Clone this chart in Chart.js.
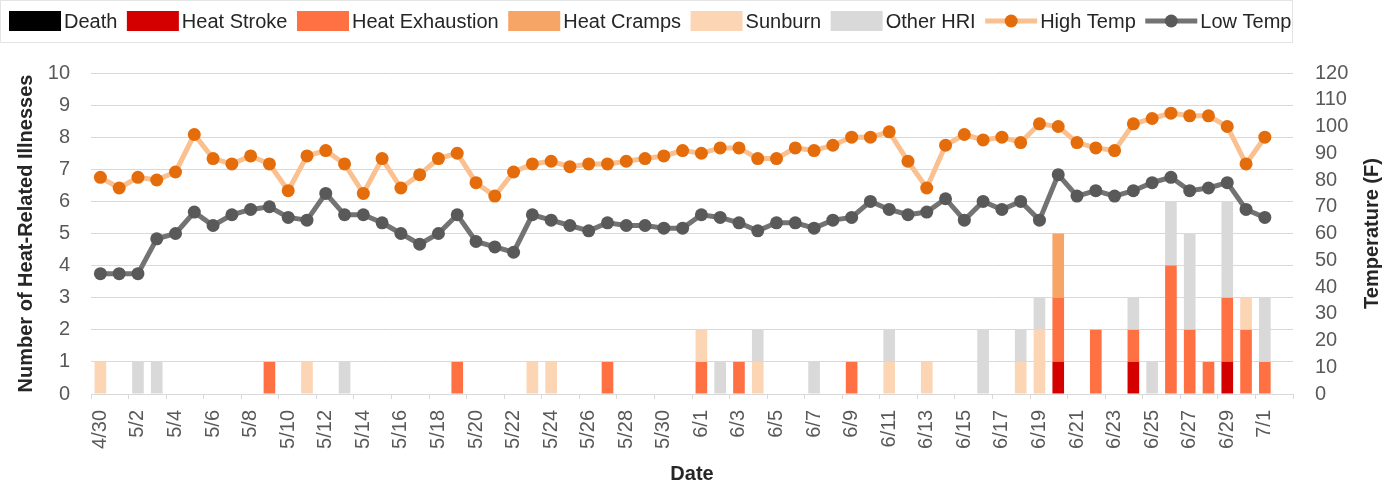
<!DOCTYPE html>
<html>
<head>
<meta charset="utf-8">
<title>Heat-Related Illnesses and Temperature</title>
<script src="https://cdn.jsdelivr.net/npm/chart.js@4.4.1/dist/chart.umd.min.js"></script>
<style>
  html, body { margin: 0; padding: 0; background: #ffffff; }
  #chart { display: block; }
</style>
</head>
<body>
<canvas id="chart" width="1395" height="487"></canvas>
<script>
// categories: one per day, 4/30 .. 7/2 (last day has no data)
const dates = [
  '4/30', '5/1', '5/2', '5/3', '5/4', '5/5', '5/6', '5/7',
  '5/8', '5/9', '5/10', '5/11', '5/12', '5/13', '5/14', '5/15',
  '5/16', '5/17', '5/18', '5/19', '5/20', '5/21', '5/22', '5/23',
  '5/24', '5/25', '5/26', '5/27', '5/28', '5/29', '5/30', '5/31',
  '6/1', '6/2', '6/3', '6/4', '6/5', '6/6', '6/7', '6/8',
  '6/9', '6/10', '6/11', '6/12', '6/13', '6/14', '6/15', '6/16',
  '6/17', '6/18', '6/19', '6/20', '6/21', '6/22', '6/23', '6/24',
  '6/25', '6/26', '6/27', '6/28', '6/29', '6/30', '7/1', '7/2'
];

// illness counts per day (stacked bars, left axis)
const deathCounts = [
  0, 0, 0, 0, 0, 0, 0, 0,
  0, 0, 0, 0, 0, 0, 0, 0,
  0, 0, 0, 0, 0, 0, 0, 0,
  0, 0, 0, 0, 0, 0, 0, 0,
  0, 0, 0, 0, 0, 0, 0, 0,
  0, 0, 0, 0, 0, 0, 0, 0,
  0, 0, 0, 0, 0, 0, 0, 0,
  0, 0, 0, 0, 0, 0, 0, 0
];
const heatStrokeCounts = [
  0, 0, 0, 0, 0, 0, 0, 0,
  0, 0, 0, 0, 0, 0, 0, 0,
  0, 0, 0, 0, 0, 0, 0, 0,
  0, 0, 0, 0, 0, 0, 0, 0,
  0, 0, 0, 0, 0, 0, 0, 0,
  0, 0, 0, 0, 0, 0, 0, 0,
  0, 0, 0, 1, 0, 0, 0, 1,
  0, 0, 0, 0, 1, 0, 0, 0
];
const heatExhaustionCounts = [
  0, 0, 0, 0, 0, 0, 0, 0,
  0, 1, 0, 0, 0, 0, 0, 0,
  0, 0, 0, 1, 0, 0, 0, 0,
  0, 0, 0, 1, 0, 0, 0, 0,
  1, 0, 1, 0, 0, 0, 0, 0,
  1, 0, 0, 0, 0, 0, 0, 0,
  0, 0, 0, 2, 0, 2, 0, 1,
  0, 4, 2, 1, 2, 2, 1, 0
];
const heatCrampsCounts = [
  0, 0, 0, 0, 0, 0, 0, 0,
  0, 0, 0, 0, 0, 0, 0, 0,
  0, 0, 0, 0, 0, 0, 0, 0,
  0, 0, 0, 0, 0, 0, 0, 0,
  0, 0, 0, 0, 0, 0, 0, 0,
  0, 0, 0, 0, 0, 0, 0, 0,
  0, 0, 0, 2, 0, 0, 0, 0,
  0, 0, 0, 0, 0, 0, 0, 0
];
const sunburnCounts = [
  1, 0, 0, 0, 0, 0, 0, 0,
  0, 0, 0, 1, 0, 0, 0, 0,
  0, 0, 0, 0, 0, 0, 0, 1,
  1, 0, 0, 0, 0, 0, 0, 0,
  1, 0, 0, 1, 0, 0, 0, 0,
  0, 0, 1, 0, 1, 0, 0, 0,
  0, 1, 2, 0, 0, 0, 0, 0,
  0, 0, 0, 0, 0, 1, 0, 0
];
const otherHriCounts = [
  0, 0, 1, 1, 0, 0, 0, 0,
  0, 0, 0, 0, 0, 1, 0, 0,
  0, 0, 0, 0, 0, 0, 0, 0,
  0, 0, 0, 0, 0, 0, 0, 0,
  0, 1, 0, 1, 0, 0, 1, 0,
  0, 0, 1, 0, 0, 0, 0, 2,
  0, 1, 1, 0, 0, 0, 0, 1,
  1, 2, 3, 0, 3, 0, 2, 0
];

// daily temperatures in F (lines, right axis)
const highTemps = [
  81, 77, 81, 80, 83, 97, 88, 86,
  89, 86, 76, 89, 91, 86, 75, 88,
  77, 82, 88, 90, 79, 74, 83, 86,
  87, 85, 86, 86, 87, 88, 89, 91,
  90, 92, 92, 88, 88, 92, 91, 93,
  96, 96, 98, 87, 77, 93, 97, 95,
  96, 94, 101, 100, 94, 92, 91, 101,
  103, 105, 104, 104, 100, 86, 96, null
];
const lowTemps = [
  45, 45, 45, 58, 60, 68, 63, 67,
  69, 70, 66, 65, 75, 67, 67, 64,
  60, 56, 60, 67, 57, 55, 53, 67,
  65, 63, 61, 64, 63, 63, 62, 62,
  67, 66, 64, 61, 64, 64, 62, 65,
  66, 72, 69, 67, 68, 73, 65, 72,
  69, 72, 65, 82, 74, 76, 74, 76,
  79, 81, 76, 77, 79, 69, 66, null
];

const rightTitle = 'Temperature (F)';

const FONT = '"Liberation Sans", Arial, sans-serif';
const TICK_COLOR = '#595959';
const TITLE_COLOR = '#262626';
const GRID_COLOR = '#D9D9D9';

const barSet = (label, data, color) => ({
  type: 'bar',
  label: label,
  data: data,
  backgroundColor: color,
  borderWidth: 0,
  yAxisID: 'y',
  stack: 'hri',
  order: 1,
  categoryPercentage: 1,
  barPercentage: 0.62
});

const lineSet = (label, data, lineColor, dotColor) => ({
  type: 'line',
  label: label,
  data: data,
  borderColor: lineColor,
  borderWidth: 5,
  pointRadius: 6.5,
  pointHoverRadius: 6.5,
  pointBackgroundColor: dotColor,
  pointBorderColor: dotColor,
  pointBorderWidth: 0,
  tension: 0,
  yAxisID: 'y2',
  order: 0
});

// legend across the top (box swatch for bars, line + dot for lines)
// and the right axis title, which reads bottom-to-top like the left one
const extras = {
  id: 'extras',
  afterDraw(chart) {
    const ctx = chart.ctx;
    ctx.save();
    ctx.strokeStyle = '#E4E4E4';
    ctx.lineWidth = 1;
    ctx.strokeRect(0.5, 0.5, 1292, 42);
    ctx.font = '20px ' + FONT;
    ctx.textBaseline = 'middle';
    ctx.textAlign = 'left';
    let x = 9;
    const cy = 21;
    chart.data.datasets.forEach((ds) => {
      if (ds.type === 'bar') {
        ctx.fillStyle = ds.backgroundColor;
        ctx.fillRect(x, cy - 10, 52, 20);
      } else {
        ctx.strokeStyle = ds.borderColor;
        ctx.lineWidth = 5;
        ctx.beginPath();
        ctx.moveTo(x, cy);
        ctx.lineTo(x + 52, cy);
        ctx.stroke();
        ctx.fillStyle = ds.pointBackgroundColor;
        ctx.beginPath();
        ctx.arc(x + 26, cy, 6.5, 0, Math.PI * 2);
        ctx.fill();
      }
      ctx.fillStyle = TITLE_COLOR;
      ctx.fillText(ds.label, x + 55, cy + 1);
      x += 55 + ctx.measureText(ds.label).width + 9.5;
    });

    const area = chart.chartArea;
    ctx.translate(1372, (area.top + area.bottom) / 2);
    ctx.rotate(-Math.PI / 2);
    ctx.textAlign = 'center';
    ctx.font = 'bold 20px ' + FONT;
    ctx.fillStyle = TITLE_COLOR;
    ctx.fillText(rightTitle, 0, 0);
    ctx.restore();
  }
};

new Chart(document.getElementById('chart'), {
  type: 'bar',
  data: {
    labels: dates,
    datasets: [
      barSet('Death', deathCounts, '#000000'),
      barSet('Heat Stroke', heatStrokeCounts, '#D40000'),
      barSet('Heat Exhaustion', heatExhaustionCounts, '#FF7043'),
      barSet('Heat Cramps', heatCrampsCounts, '#F7A566'),
      barSet('Sunburn', sunburnCounts, '#FCD5B5'),
      barSet('Other HRI', otherHriCounts, '#D9D9D9'),
      lineSet('High Temp', highTemps, '#FAC090', '#E46C0A'),
      lineSet('Low Temp', lowTemps, '#737373', '#595959')
    ]
  },
  options: {
    responsive: false,
    animation: false,
    devicePixelRatio: 1,
    layout: { padding: { top: 73, left: 0, right: 0, bottom: 0 } },
    plugins: {
      legend: { display: false },
      tooltip: { enabled: false }
    },
    scales: {
      x: {
        stacked: true,
        offset: true,
        grid: {
          offset: true,
          drawOnChartArea: false,
          tickLength: 5,
          color: (c) => (c.index === undefined || c.index % 2 === 0) ? GRID_COLOR : 'rgba(0,0,0,0)'
        },
        border: { color: GRID_COLOR },
        ticks: {
          autoSkip: false,
          minRotation: 90,
          maxRotation: 90,
          padding: 11,
          color: TICK_COLOR,
          font: { family: FONT, size: 20 },
          callback: (v, i) => (i % 2 === 0 ? dates[i] : '')
        },
        title: {
          display: true,
          text: 'Date',
          color: TITLE_COLOR,
          font: { family: FONT, size: 20, weight: 'bold' },
          padding: { top: 0, bottom: 1 }
        },
        afterFit: (s) => { s.height = 93; }
      },
      y: {
        position: 'left',
        stacked: true,
        min: 0,
        max: 10,
        grid: { color: GRID_COLOR, drawTicks: false },
        border: { display: false },
        ticks: {
          stepSize: 1,
          autoSkip: false,
          padding: 21,
          color: TICK_COLOR,
          font: { family: FONT, size: 20 }
        },
        title: {
          display: true,
          text: 'Number of Heat-Related Illnesses',
          color: TITLE_COLOR,
          font: { family: FONT, size: 20, weight: 'bold' },
          padding: { top: 14, bottom: 0 }
        },
        afterFit: (s) => { s.width = 91; }
      },
      y2: {
        position: 'right',
        min: 0,
        max: 120,
        grid: { display: false, drawTicks: false },
        border: { display: false },
        ticks: {
          stepSize: 10,
          autoSkip: false,
          padding: 22,
          color: TICK_COLOR,
          font: { family: FONT, size: 20 }
        },
        title: { display: false },
        afterFit: (s) => { s.width = 102; }
      }
    }
  },
  plugins: [extras]
});
</script>
</body>
</html>
